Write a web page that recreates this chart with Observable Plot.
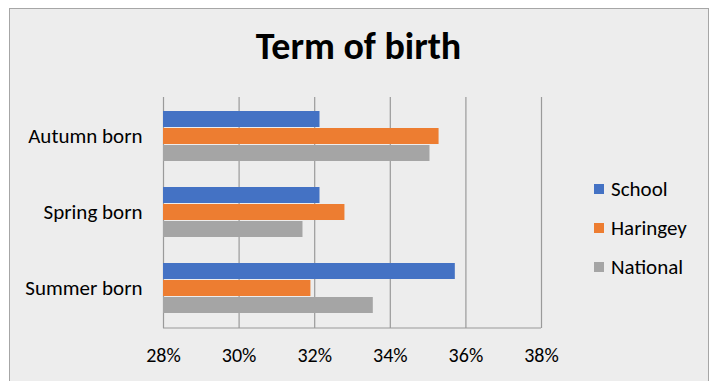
<!DOCTYPE html>
<html>
<head>
<meta charset="utf-8">
<script src="https://cdn.jsdelivr.net/npm/d3@7"></script>
<script src="https://cdn.jsdelivr.net/npm/@observablehq/plot@0.6"></script>
<style>
  html, body { margin: 0; padding: 0; background: #ffffff; }
  body { width: 715px; height: 381px; position: relative; overflow: hidden;
         font-family: Carlito, Calibri, Lato, "Open Sans", sans-serif; color: #000; }
  #frame { position: absolute; left: 9px; top: 8px; width: 698px; height: 380px;
           background: #ededed; border: 1.5px solid #a6a6a6; border-bottom: none; }
  #title { position: absolute; left: 0; width: 717px; top: 24px; text-align: center;
           font-weight: bold; font-size: 38px; line-height: 44px; }
  #chart { position: absolute; left: 0; top: 0; }
  #legend { position: absolute; left: 594px; top: 177px; font-size: 21px; }
  .item { display: flex; align-items: center; height: 24px; margin-bottom: 15px; }
  .sw { width: 10px; height: 10px; margin-right: 7px; }
</style>
</head>
<body>
<div id="frame"></div>
<div id="chart"></div>
<div id="title">Term of birth</div>
<div id="legend"></div>
<script>
const categories = ["Autumn born", "Spring born", "Summer born"];
const seriesNames = ["School", "Haringey", "National"];
const seriesColors = ["#4472c4", "#ed7d31", "#a5a5a5"];
const schoolValues = [0.3214, 0.3214, 0.3572];
const haringeyValues = [0.3529, 0.3280, 0.3190];
const nationalValues = [0.3505, 0.3169, 0.3355];
const xTicks = [0.28, 0.30, 0.32, 0.34, 0.36, 0.38];

const seriesValues = [schoolValues, haringeyValues, nationalValues];
const data = [];
seriesNames.forEach((s, i) => categories.forEach((c, j) => data.push({term: c, series: s, value: seriesValues[i][j]})));

const xMin = xTicks[0];
const bandH = 51;
const barH = bandH / 3;

const barMarks = seriesNames.map((s, i) => Plot.barX(data.filter(d => d.series === s), {
  y: "term", x1: () => xMin, x2: "value", fill: "series",
  insetTop: barH * i, insetBottom: barH * (2 - i)
}));

const plot = Plot.plot({
  width: 715, height: 381,
  marginLeft: 163, marginRight: 174, marginTop: 97, marginBottom: 53,
  style: { background: "transparent", fontFamily: "Carlito, Calibri, Lato, 'Open Sans', sans-serif", fontSize: "20px", color: "#000" },
  x: { domain: [xTicks[0], xTicks[xTicks.length - 1]], label: null },
  y: { domain: categories, paddingInner: 0.338, paddingOuter: 0.18, label: null },
  color: { domain: seriesNames, range: seriesColors },
  marks: [
    Plot.ruleX(xTicks, { stroke: "#9a9a9a", strokeWidth: 1.2 }),
    ...barMarks,
    Plot.axisX({ ticks: xTicks, tickFormat: d3.format(".0%"), tickSize: 0, tickPadding: 19, fontSize: 20, label: null }),
    Plot.axisY({ tickSize: 0, tickPadding: 21, fontSize: 21, label: null })
  ]
});
document.getElementById("chart").appendChild(plot);

// bottom axis line
const svg = d3.select(plot);
const xs = plot.scale("x");
svg.append("line")
  .attr("x1", xs.apply(xTicks[0])).attr("x2", xs.apply(xTicks[xTicks.length - 1]))
  .attr("y1", 381 - 53).attr("y2", 381 - 53)
  .attr("stroke", "#9a9a9a").attr("stroke-width", 1.2);

const legend = document.getElementById("legend");
seriesNames.forEach((s, i) => {
  const item = document.createElement("div");
  item.className = "item";
  item.innerHTML = `<span class="sw" style="background:${seriesColors[i]}"></span><span>${s}</span>`;
  legend.appendChild(item);
});
</script>
</body>
</html>
